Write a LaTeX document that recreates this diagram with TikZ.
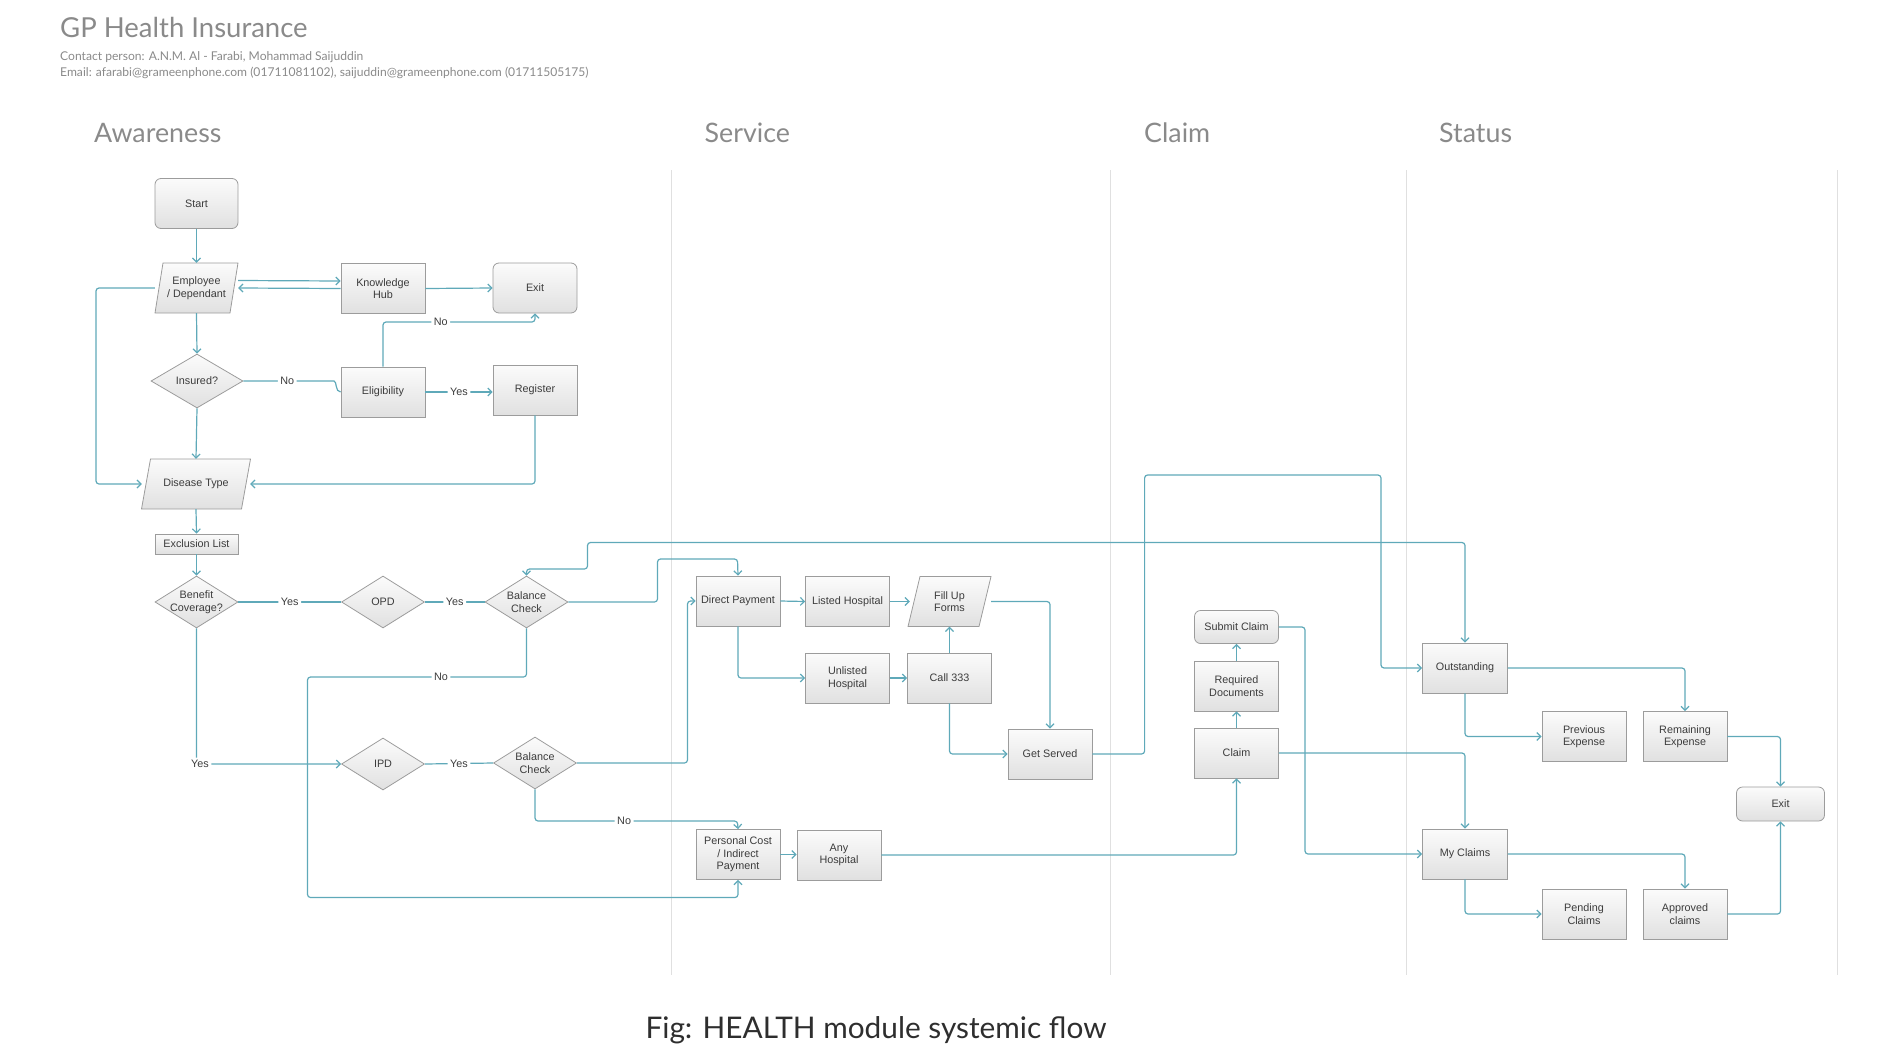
\documentclass[tikz,border=0pt]{standalone}
\usepackage{fontspec}
\setmainfont{Liberation Sans}
\newfontfamily\latofont{Lato}
\usetikzlibrary{arrows.meta,shapes.geometric,calc}
\definecolor{teal1}{HTML}{5FA9B9}
\definecolor{bord}{HTML}{9C9C9C}
\definecolor{txt}{HTML}{3C3C3C}
\definecolor{hdr}{HTML}{8A8A8A}
\definecolor{capc}{HTML}{2E2E2E}
\definecolor{lanec}{HTML}{E0E0E0}
\newcommand\nodefont{\fontsize{10.8}{12.6}\selectfont}
\tikzset{
 shade1/.style={draw=bord, line width=0.8pt, top color=gray!3, bottom color=gray!24},
 box/.style={shade1, minimum width=84pt, minimum height=50pt, inner sep=1pt, align=center, font=\nodefont, text=txt},
 rbox/.style={box, rounded corners=6pt},
 dia/.style={diamond, shade1, inner sep=0pt, minimum width=83pt, minimum height=52pt},
 dtxt/.style={align=center, font=\nodefont, text=txt, inner sep=0pt},
 pshape/.style={shade1},
 pnode/.style={inner sep=0pt, align=center, font=\nodefont, text=txt},
 conn/.style={draw=teal1, line width=1.2pt, rounded corners=3pt, -{Straight Barb[length=4pt,width=8pt]}},
 plain/.style={conn, -},
 both/.style={conn, {Straight Barb[length=4pt,width=8pt]}-{Straight Barb[length=4pt,width=8pt]}},
 lab/.style={fill=white, inner sep=2.5pt, font=\nodefont, text=txt},
 lanes/.style={draw=lanec, line width=1pt},
 hdrtxt/.style={anchor=west, inner sep=0pt, text=hdr, font=\latofont\fontsize{26.8}{30}\selectfont},
 small/.style={anchor=west, inner sep=0pt, text=hdr, font=\latofont\fontsize{12.1}{14}\selectfont},
}
% name, x, y, mean width, height, slant, text
\newcommand\mkpara[7]{%
 \path[pshape] ({#2-#4/2-#6/2},{#3+#5/2}) -- ({#2-#4/2+#6/2},{#3-#5/2}) -- ({#2+#4/2+#6/2},{#3-#5/2}) -- ({#2+#4/2-#6/2},{#3+#5/2}) -- cycle;
 \node[pnode, minimum width=#4pt, minimum height=#5pt] (#1) at (#2,#3) {#7};}
\newcommand\mkdia[5]{% name, x, y, height, text
 \node[dia, minimum height=#4pt] (#1) at (#2,#3) {};
 \node[dtxt] (#1t) at (#1) {#5};}
\begin{document}
\begin{tikzpicture}[x=1pt,y=-1pt]
\useasboundingbox (0,0) rectangle (1898,1060);
% lanes
\foreach \lx in {671,1110.5,1406,1837} \draw[lanes] (\lx,170) -- (\lx,975);
% titles
\node[hdrtxt, font=\latofont\fontsize{27.5}{30}\selectfont] (title) at (60,27) {GP Health Insurance};
\node[small] (contact) at (60,57) {Contact person: A.N.M. Al - Farabi, Mohammad Saijuddin};
\node[small] (email) at (60,73) {Email: afarabi@grameenphone.com (01711081102), saijuddin@grameenphone.com (01711505175)};
\node[hdrtxt] (haw) at (94,133) {Awareness};
\node[hdrtxt] (hsv) at (704.5,133) {Service};
\node[hdrtxt] (hcl) at (1144,133) {Claim};
\node[hdrtxt] (hst) at (1439,133) {Status};
\node[inner sep=0pt, text=capc, font=\latofont\fontsize{29.8}{32}\selectfont] (cap) at (876,1030) {Fig: HEALTH module systemic flow};
% awareness nodes
\node[rbox, minimum width=83pt] (start) at (196.5,203.5) {Start};
\mkpara{emp}{196.5}{288}{75}{50}{8}{Employee\\/ Dependant}
\node[box] (kh) at (383,288.5) {Knowledge\\Hub};
\node[rbox] (exit1) at (535,288) {Exit};
\node[dia, minimum width=92pt, minimum height=54pt] (ins) at (197,381) {};
\node[dtxt] (inst) at (ins) {Insured?};
\node[box] (elig) at (383,392) {Eligibility};
\node[box] (reg) at (535,390) {Register};
\mkpara{dt}{196}{484}{100}{50}{9}{Disease Type}
\node[box, minimum width=83pt, minimum height=20pt] (excl) at (196.5,544) {Exclusion List};
\mkdia{bc}{196.5}{602}{52}{Benefit\\Coverage?}
\mkdia{opd}{383}{602}{52}{OPD}
\mkdia{bal1}{526.5}{602}{52}{Balance\\Check}
\mkdia{ipd}{383}{764}{52}{IPD}
\mkdia{bal2}{535}{763}{52}{Balance\\Check}
% service nodes
\node[box] (dp) at (738,601) {Direct Payment};
\node[box] (lh) at (847.5,601.5) {Listed Hospital};
\mkpara{fuf}{949.5}{601.5}{71}{50}{12}{Fill Up\\Forms}
\node[box] (uh) at (847.5,678) {Unlisted\\Hospital};
\node[box] (call) at (949.5,678) {Call 333};
\node[box] (gs) at (1050,754) {Get Served};
\node[box] (pc) at (738,854.5) {Personal Cost\\/ Indirect\\Payment};
\node[box] (ah) at (839,855) {Any\\Hospital};
% claim nodes
\node[rbox, minimum height=33pt] (sc) at (1236.5,627) {Submit Claim};
\node[box] (rd) at (1236.5,686) {Required\\Documents};
\node[box] (claim) at (1236.5,753) {Claim};
% status nodes
\node[box, minimum width=85pt] (out) at (1465,668) {Outstanding};
\node[box] (pe) at (1584,736.5) {Previous\\Expense};
\node[box] (re) at (1685,736.5) {Remaining\\Expense};
\node[rbox, minimum width=88pt, minimum height=34pt] (exit2) at (1780.5,804) {Exit};
\node[box, minimum width=85pt] (mc) at (1465,854) {My Claims};
\node[box] (pcl) at (1584,914) {Pending\\Claims};
\node[box] (ac) at (1685,914) {Approved\\claims};
% connectors: awareness
\draw[conn] (start) -- (emp.north);
\draw[conn] ([shift={(4pt,7.5pt)}]emp.east) -- ([yshift=7.5pt]kh.west);
\draw[conn] (kh.west) -- ([xshift=4pt]emp.east);
\draw[conn] (kh.east) -- (exit1.west);
\draw[conn] (emp.south) -- (ins.north);
\draw[conn] ([xshift=-4pt]emp.west) -- (96,288) |- ([xshift=-4pt]dt.west);
\draw[plain] (ins.east) -- node[lab]{No} (331,381) .. controls (337,381) and (335,392) .. (elig.west);
\draw[conn] (elig.north) |- node[lab,pos=0.69]{No} (535,322) -- (exit1.south);
\draw[conn] (elig.east) -- node[lab]{Yes} (elig.east -| reg.west);
\draw[conn] (reg.south) |- ([xshift=4pt]dt.east);
\draw[conn] (ins.south) -- (dt.north);
\draw[conn] (dt.south) -- (excl.north);
\draw[conn] (excl.south) -- (bc.north);
\draw[plain] (bc.east) -- node[lab]{Yes} (opd.west);
\draw[plain] (opd.east) -- node[lab]{Yes} (bal1.west);
\draw[conn] (bc.south) |- node[lab, xshift=3.5pt]{Yes} (ipd.west);
\draw[plain] (ipd.east) -- node[lab]{Yes} (bal2.west);
\draw[conn] (bal1.east) -- (657.5,602) |- (737.5,559) -- (dp.north);
\draw[conn] (bal1.south) -- (526.5,677) -- node[lab,pos=0.39]{No} (307.5,677) -- (307.5,897.5) -| (pc.south);
\draw[conn] (bal2.east) -- (687.5,763) |- (dp.west);
\draw[conn] (bal2.south) |- node[lab,pos=0.72]{No} (737.5,821) -- (pc.north);
% connectors: service
\draw[conn] (dp.east) -- (lh.west);
\draw[conn] (dp.south) |- (uh.west);
\draw[conn] (lh.east) -- ([xshift=-4pt]fuf.west);
\draw[conn] (uh.east) -- (call.west);
\draw[conn] (call.north) -- (fuf.south);
\draw[conn] ([xshift=6pt]fuf.east) -| (gs.north);
\draw[conn] (call.south) |- (gs.west);
\draw[conn] (pc.east) -- (pc.east -| ah.west);
\draw[conn] (ah.east) -| (claim.south);
\draw[conn] (gs.east) -- (1144.6,754) |- (1381,475) |- (out.west);
\draw[both] (out.north) |- (587.5,542.5) -- (587.5,569) -| (bal1.north);
% connectors: claim and status
\draw[conn] (claim.north) -- (rd.south);
\draw[conn] (rd.north) -- (sc.south);
\draw[conn] (sc.east) -- (1305,627) |- (mc.west);
\draw[conn] (claim.east) -| (mc.north);
\draw[conn] (out.east) -| (re.north);
\draw[conn] (out.south) |- (pe.west);
\draw[conn] (re.east) -| (exit2.north);
\draw[conn] (ac.east) -| (exit2.south);
\draw[conn] (mc.east) -| (ac.north);
\draw[conn] (mc.south) |- (pcl.west);
\end{tikzpicture}
\end{document}
